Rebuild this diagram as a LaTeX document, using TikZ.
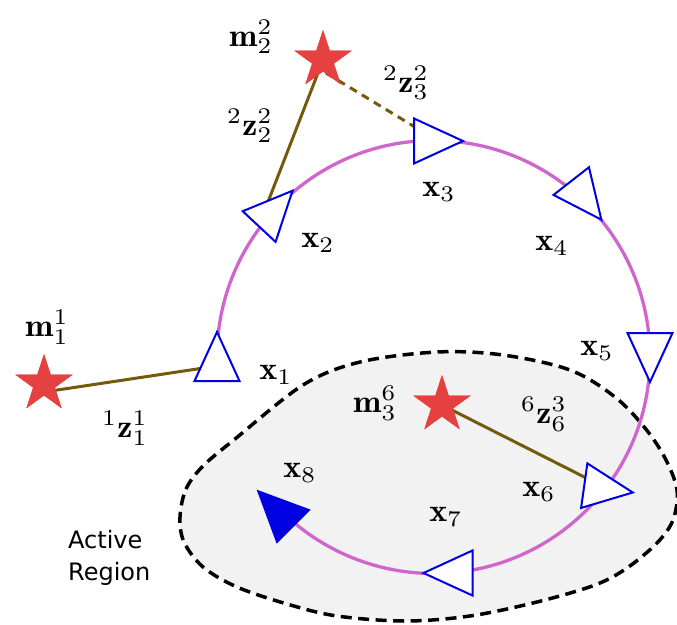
\documentclass[tikz,border=0pt]{standalone}
\usepackage{graphicx}
\usepackage{fontspec}
\newfontfamily\dejavu{DejaVu Sans}
\usetikzlibrary{shapes.geometric}
\definecolor{pathpink}{RGB}{206,102,204}
\definecolor{linkbrown}{RGB}{115,90,15}
\definecolor{markblue}{RGB}{0,0,225}
\definecolor{starred}{RGB}{230,65,65}
\definecolor{regiongray}{RGB}{242,242,242}
\newcommand{\biglab}[1]{\scalebox{3.4}[3.2]{#1}}
\tikzset{
  pics/trianglemark/.style={code={\path[pic actions] (25,0) -- (-24,22.5) -- (-24,-22.5) -- cycle;}},
}
\begin{document}
\begin{tikzpicture}[x=1pt,y=-1pt,
  starmark/.style={star, star points=5, star point ratio=2.618, minimum size=60pt, inner sep=0pt, fill=starred, draw=none},
  trimark/.style={draw=markblue, line width=2pt, fill=white, line join=miter},
  trifull/.style={draw=markblue, line width=2pt, fill=markblue, line join=miter},
  link/.style={draw=linkbrown, line width=3pt},
  dashlink/.style={draw=linkbrown, line width=3pt, dash pattern=on 8pt off 6pt},
  traj/.style={draw=pathpink, line width=3.3pt},
  region/.style={draw=black, fill=regiongray, line width=3.5pt, dash pattern=on 11pt off 6.5pt},
  lab/.style={font=\fontsize{10}{12}\selectfont, inner sep=0pt},
  sanslab/.style={font=\dejavu\fontsize{24}{32}\selectfont, inner sep=0pt, anchor=base west},
]
\useasboundingbox (0,0) rectangle (677,624);

% active region
\path[region] plot[smooth cycle, tension=0.55] coordinates {
  (180,517) (186,489) (203,466) (235,439) (303,385) (360,362) (437,352)
  (503,355) (570,370) (615,397) (645,428) (665,458) (677,490) (673,520)
  (657,543) (627,568) (595,585) (537,602) (470,616) (405,621) (337,616)
  (287,604) (237,587) (203,567) (184,542)};

% marker centres
\coordinate (x1) at (217,357);
\coordinate (x2) at (275.5,209);
\coordinate (x3) at (438,141);
\coordinate (x4) at (586,200);
\coordinate (x5) at (650,357);
\coordinate (x6) at (608,489);
\coordinate (x7) at (448.5,573);
\coordinate (x8) at (276,509);

% trajectory
\draw[traj] (x1) arc[start angle=180, end angle=497, radius=216.5];

% landmarks
\node[starmark] (m1) at (44,384) {};
\node[starmark] (m2) at (323,60) {};
\node[starmark] (m3) at (442,405) {};

% link end points
\coordinate (l1a) at (44,392);
\coordinate (l1b) at (217,366);
\coordinate (l2b) at (266,207);
\coordinate (l3a) at (326,73);

\path[link] (l1a) -- (l1b);
\path[link] (m2.center) -- (l2b);
\path[dashlink] (l3a) -- (x3);
\path[link] (m3.center) -- (x6);

% poses
\pic[trimark, rotate=90] at (x1) {trianglemark};
\pic[trimark, rotate=47] at (x2) {trianglemark};
\pic[trimark, rotate=0] at (x3) {trianglemark};
\pic[trimark, rotate=-52] at (x4) {trianglemark};
\pic[trimark, rotate=-90] at (x5) {trianglemark};
\pic[trimark, rotate=-8] at (x6) {trianglemark};
\pic[trimark, rotate=180] at (x7) {trianglemark};
\pic[trifull, rotate=135] at (x8) {trianglemark};

% stars on top
\node[starmark] at (m1) {};
\node[starmark] at (m2) {};
\node[starmark] at (m3) {};

% labels
\node[lab] (lm1) at (47,327) {\biglab{$\mathbf{m}_1^1$}};
\node[lab] (lm2) at (251,37) {\biglab{$\mathbf{m}_2^2$}};
\node[lab] (lm3) at (375,403) {\biglab{$\mathbf{m}_3^6$}};
\node[lab] (lz11) at (125,428) {\biglab{${}^1\mathbf{z}_1^1$}};
\node[lab] (lz22) at (250,126) {\biglab{${}^2\mathbf{z}_2^2$}};
\node[lab] (lz23) at (406,83) {\biglab{${}^2\mathbf{z}_3^2$}};
\node[lab] (lz63) at (544,414) {\biglab{${}^6\mathbf{z}_6^3$}};
\node[lab] (lx1) at (276,375) {\biglab{$\mathbf{x}_1$}};
\node[lab] (lx2) at (318,243) {\biglab{$\mathbf{x}_2$}};
\node[lab] (lx3) at (439,192) {\biglab{$\mathbf{x}_3$}};
\node[lab] (lx4) at (552,246) {\biglab{$\mathbf{x}_4$}};
\node[lab] (lx5) at (597,351) {\biglab{$\mathbf{x}_5$}};
\node[lab] (lx6) at (539,492) {\biglab{$\mathbf{x}_6$}};
\node[lab] (lx7) at (446,517) {\biglab{$\mathbf{x}_7$}};
\node[lab] (lx8) at (300,473) {\biglab{$\mathbf{x}_8$}};
\node[sanslab] (act) at (68,548) {Active};
\node[sanslab] (reg) at (68,580) {Region};
\end{tikzpicture}
\end{document}
